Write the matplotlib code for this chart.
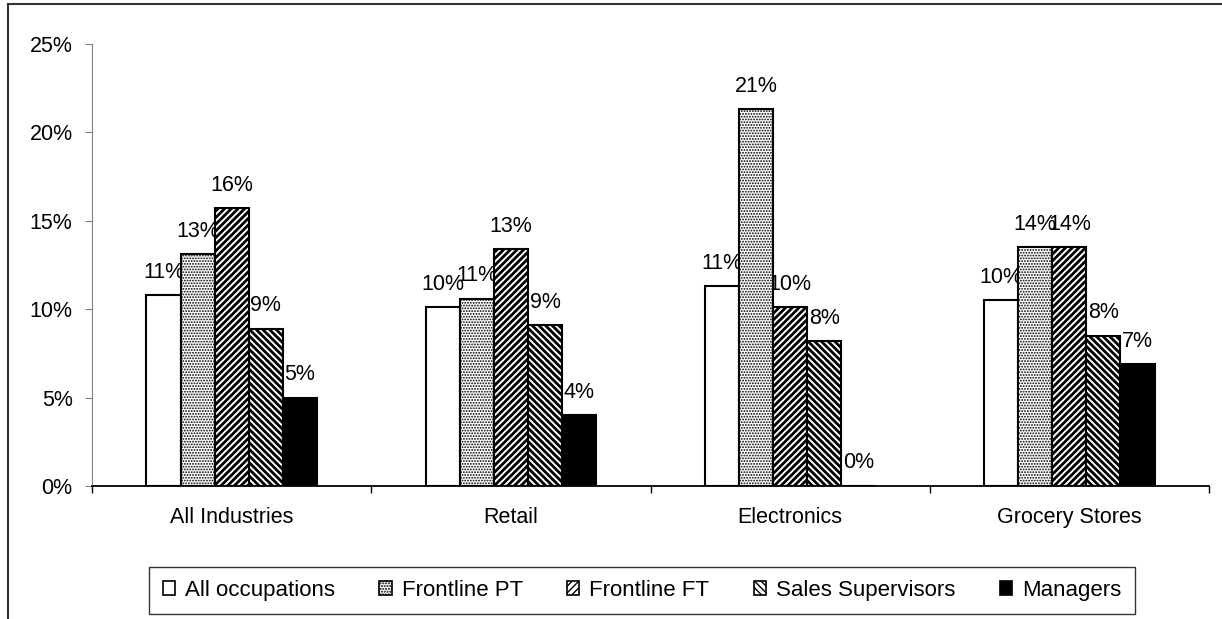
import matplotlib
matplotlib.use("Agg")
import matplotlib.pyplot as plt
from matplotlib.lines import Line2D
from matplotlib.patches import Patch
import numpy as np

categories = ["All Industries", "Retail", "Electronics", "Grocery Stores"]
series_names = ["All occupations", "Frontline PT", "Frontline FT", "Sales Supervisors", "Managers"]
all_occupations = [10.8, 10.1, 11.3, 10.5]
frontline_pt = [13.1, 10.6, 21.3, 13.5]
frontline_ft = [15.7, 13.4, 10.1, 13.5]
sales_supervisors = [8.9, 9.1, 8.2, 8.5]
managers = [5.0, 4.0, 0.0, 6.9]
yticks = [0, 5, 10, 15, 20, 25]

series = [all_occupations, frontline_pt, frontline_ft, sales_supervisors, managers]
faces = ["white", "white", "white", "white", "black"]
hatches = [None, "......", "/////", "\\\\\\\\\\", None]
hatch_lws = [1.0, 0.9, 2.0, 2.0, 1.0]

plt.rcParams['font.family'] = ['Liberation Sans', 'DejaVu Sans']

fig = plt.figure(figsize=(12.22, 6.19), dpi=100)
ax = fig.add_axes([92/1222, 133/619, (1209-92)/1222, (486-44)/619])

x = np.arange(len(categories))
w = 0.122
for i, (vals, fc, h) in enumerate(zip(series, faces, hatches)):
    plt.rcParams['hatch.linewidth'] = hatch_lws[i]
    pos = x + (i - 2) * w
    bars = ax.bar(pos, vals, width=w, color=fc, edgecolor="black", linewidth=1.5,
                  hatch=h, zorder=3, label=series_names[i])
    for b, v in zip(bars, vals):
        ax.annotate(f"{round(v)}%", (b.get_x() + b.get_width()/2, v),
                    xytext=(0, 9), textcoords="offset points",
                    ha="center", va="bottom", fontsize=15.5, zorder=1)

ax.set_xlim(-0.5, len(categories) - 0.5)
ax.set_ylim(0, 25)
ax.set_yticks(yticks)
ax.set_yticklabels([f"{t}%" for t in yticks])
ax.set_xticks(np.arange(len(categories) + 1) - 0.5)
ax.set_xticklabels([])
ax.set_xticks(x, minor=True)
ax.set_xticklabels(categories, minor=True)
ax.tick_params(axis="x", which="major", length=5, direction="out", width=1)
ax.tick_params(axis="x", which="minor", length=0, pad=15, labelsize=15.5)
ax.tick_params(axis="y", length=5, direction="out", pad=9, labelsize=15.5, color="#808080")
for s in ["top", "right"]:
    ax.spines[s].set_visible(False)
ax.spines["left"].set_color("#808080")
ax.spines["bottom"].set_color("black")
ax.spines["bottom"].set_linewidth(1.3)

handles = []
for fc, h, lw in zip(faces, hatches, hatch_lws):
    plt.rcParams['hatch.linewidth'] = min(lw, 1.2)
    handles.append(Patch(facecolor=fc, edgecolor="black", hatch=h, linewidth=1.2))
leg = fig.legend(handles, series_names, loc="center", ncol=5,
                 bbox_to_anchor=(642/1222, (619-590.5)/619),
                 frameon=True, fancybox=False, edgecolor="black", fontsize=16,
                 handlelength=0.55, handleheight=0.55, handletextpad=0.45,
                 columnspacing=2.0, borderpad=0.6)
leg.get_frame().set_linewidth(1.0)

fig.add_artist(Line2D([8/1222, 8/1222], [0, 1 - 4/619], color="#333333", linewidth=1.5))
fig.add_artist(Line2D([8/1222, 1], [1 - 4/619, 1 - 4/619], color="#333333", linewidth=1.5))

fig.savefig("out.png", dpi=100)
